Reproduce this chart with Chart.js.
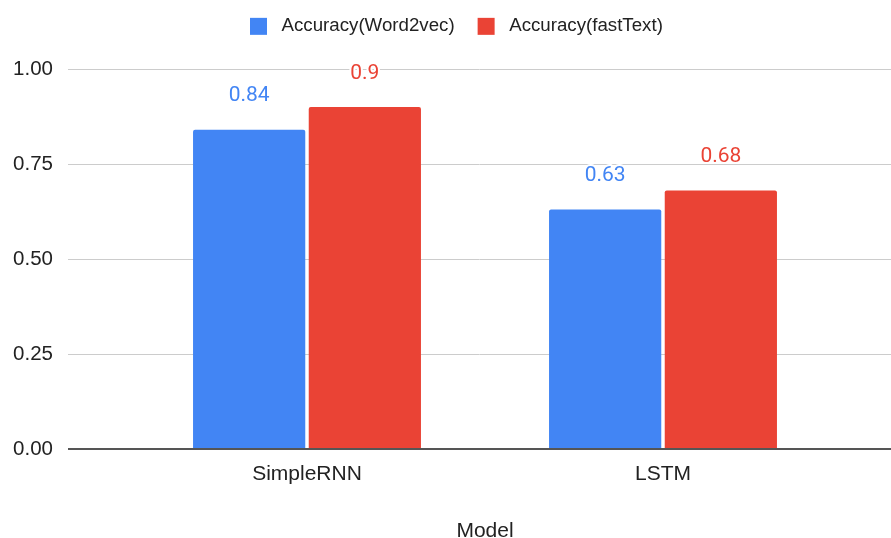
<!DOCTYPE html>
<html>
<head>
<meta charset="utf-8">
<script src="https://cdn.jsdelivr.net/npm/chart.js@4.4.0/dist/chart.umd.min.js"></script>
<style>
  html, body { margin: 0; padding: 0; background: #fff; }
  #wrap { width: 891px; height: 538px; }
</style>
</head>
<body>
<div id="wrap"><canvas id="c" width="891" height="538"></canvas></div>
<script>
const categories = ['SimpleRNN', 'LSTM'];
const seriesNames = ['Accuracy(Word2vec)', 'Accuracy(fastText)'];
const word2vec = [0.84, 0.63];
const fastText = [0.9, 0.68];
const yTicks = [0, 0.25, 0.5, 0.75, 1];
const xTitle = 'Model';

const BLUE = '#4285F4';
const RED = '#EA4335';
const SANS = '"Liberation Sans", Arial, sans-serif';

const gridPlugin = {
  id: 'fullGrid',
  beforeDatasetsDraw(chart) {
    const ctx = chart.ctx;
    const y = chart.scales.y;
    ctx.save();
    ctx.strokeStyle = '#cccccc';
    ctx.lineWidth = 1;
    yTicks.forEach(v => {
      if (v === 0) return;
      const py = Math.round(y.getPixelForValue(v)) + 0.5;
      ctx.beginPath();
      ctx.moveTo(68, py);
      ctx.lineTo(chart.width, py);
      ctx.stroke();
    });
    ctx.restore();
  },
  afterDatasetsDraw(chart) {
    const ctx = chart.ctx;
    const y = chart.scales.y;
    ctx.save();
    ctx.strokeStyle = '#555555';
    ctx.lineWidth = 2;
    const py = Math.round(y.getPixelForValue(0));
    ctx.beginPath();
    ctx.moveTo(68, py);
    ctx.lineTo(chart.width, py);
    ctx.stroke();
    // data labels
    ctx.font = '21px Roboto, "Noto Sans", sans-serif';
    ctx.textAlign = 'center';
    ctx.textBaseline = 'alphabetic';
    ctx.lineJoin = 'round';
    chart.data.datasets.forEach((ds, di) => {
      const meta = chart.getDatasetMeta(di);
      meta.data.forEach((bar, i) => {
        const txt = String(ds.data[i]);
        const ty = bar.y - 28.5;
        ctx.strokeStyle = '#ffffff';
        ctx.lineWidth = 4;
        ctx.strokeText(txt, bar.x, ty);
        ctx.fillStyle = ds.backgroundColor;
        ctx.fillText(txt, bar.x, ty);
      });
    });
    ctx.restore();
  }
};

const legendPlugin = {
  id: 'legendTweak',
  beforeLayout(chart) {
    const lg = chart.legend;
    if (lg && !lg._patched) {
      const fit = lg.fit;
      lg.fit = function () { fit.call(this); this.height = 69; };
      lg._patched = true;
    }
  },
  afterLayout(chart) {
    const lg = chart.legend;
    if (lg) {
      lg.top = -6;
      lg.left = 227;
    }
  }
};

new Chart(document.getElementById('c'), {
  type: 'bar',
  data: {
    labels: categories,
    datasets: [
      { label: seriesNames[0], data: word2vec, backgroundColor: BLUE, borderRadius: 2 },
      { label: seriesNames[1], data: fastText, backgroundColor: RED, borderRadius: 2 }
    ]
  },
  options: {
    responsive: false,
    animation: false,
    devicePixelRatio: 1,
    layout: { padding: { left: 0, right: 50, top: 0, bottom: 0 } },
    datasets: { bar: { categoryPercentage: 0.65, barPercentage: 0.97 } },
    plugins: {
      legend: {
        position: 'top',
        align: 'start',
        labels: {
          boxWidth: 17,
          boxHeight: 17,
          padding: 23,
          color: '#222222',
          font: { family: SANS, size: 18.7 },
          generateLabels(chart) {
            const items = Chart.defaults.plugins.legend.labels.generateLabels(chart);
            items.forEach(it => { it.text = ' ' + it.text; it.lineWidth = 0; it.strokeStyle = 'rgba(0,0,0,0)'; });
            return items;
          }
        }
      },
      tooltip: { enabled: false },
      title: { display: false }
    },
    scales: {
      x: {
        grid: { display: false, drawTicks: false },
        border: { display: false },
        ticks: { color: '#222222', font: { family: SANS, size: 21 }, padding: 13 },
        title: { display: true, text: xTitle, color: '#222222', font: { family: SANS, size: 21, lineHeight: 0.6 }, padding: 0 },
        afterFit(scale) { scale.height = 89; }
      },
      y: {
        min: 0,
        max: 1,
        grid: { display: false, drawTicks: false },
        border: { display: false },
        afterBuildTicks(scale) { scale.ticks = yTicks.map(v => ({ value: v })); },
        ticks: {
          color: '#222222',
          font: { family: SANS, size: 20.5 },
          padding: 76,
          callback: v => Number(v).toFixed(2)
        },
        afterFit(scale) { scale.width = 129; scale.paddingTop = 0; scale.paddingBottom = 0; }
      }
    }
  },
  plugins: [gridPlugin, legendPlugin]
});
</script>
</body>
</html>
